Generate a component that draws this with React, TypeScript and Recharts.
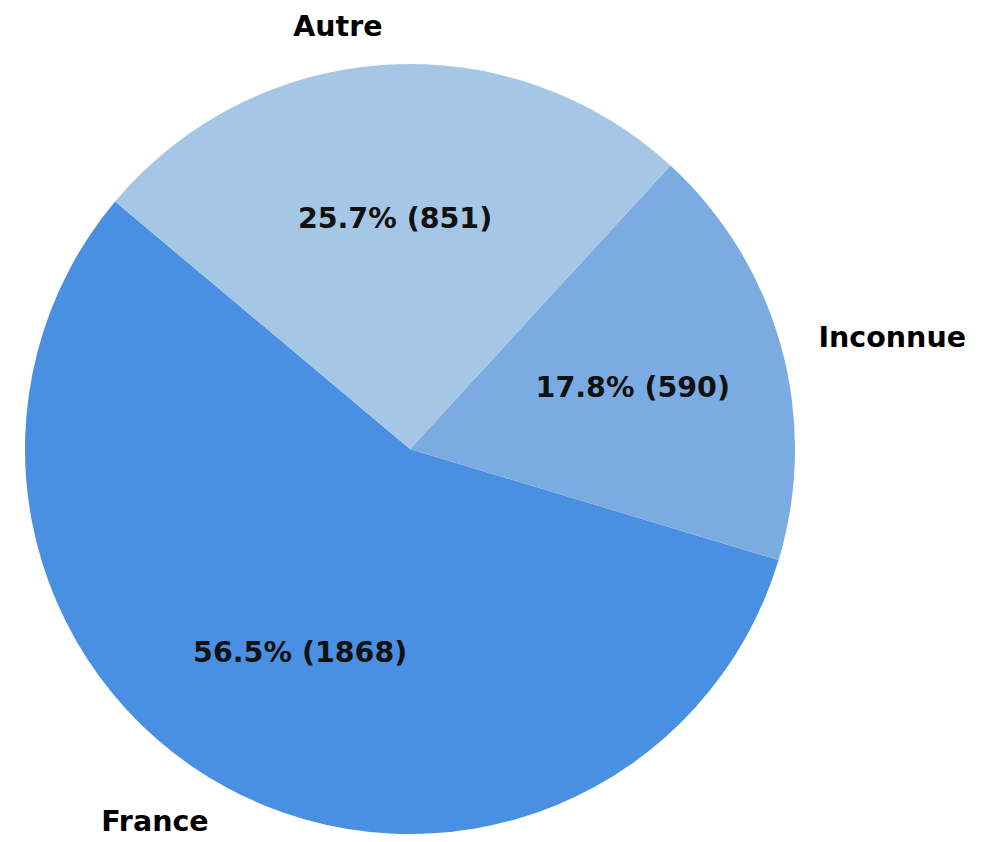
import { PieChart, Pie, Cell } from "recharts";

const categories = ["France", "Inconnue", "Autre"];
const counts = [1868, 590, 851];
const colors = ["#4a90e2", "#7aace2", "#a5c7e5"];

const data = categories.map((name, i) => ({ name, value: counts[i] }));

const RADIAN = Math.PI / 180;
const FONT = "'DejaVu Sans', sans-serif";

function renderLabel(props: any) {
  const { cx, cy, midAngle, outerRadius, name, value, percent } = props;
  const cos = Math.cos(-midAngle * RADIAN);
  const sin = Math.sin(-midAngle * RADIAN);
  // name outside (1.1 x radius), percentage inside (0.6 x radius)
  const ox = cx + outerRadius * 1.1 * cos;
  const oy = cy + outerRadius * 1.1 * sin;
  const ix = cx + outerRadius * 0.6 * cos;
  const iy = cy + outerRadius * 0.6 * sin;
  return (
    <g>
      <text
        x={ox}
        y={oy}
        textAnchor={ox < cx ? "end" : "start"}
        dominantBaseline="central"
        fill="#000"
        fontFamily={FONT}
        fontWeight="bold"
        fontSize={28.5}
      >
        {name}
      </text>
      <text
        x={ix}
        y={iy}
        textAnchor="middle"
        dominantBaseline="central"
        fill="#111"
        fontFamily={FONT}
        fontWeight="bold"
        fontSize={28.5}
      >
        {`${(percent * 100).toFixed(1)}% (${value})`}
      </text>
    </g>
  );
}

export default function App() {
  return (
    <div style={{ position: "absolute", left: 0, top: 0, width: 991, height: 842, background: "#fff" }}>
      <PieChart width={991} height={842} margin={{ top: 0, right: 0, bottom: 0, left: 0 }}>
        <Pie
          data={data}
          dataKey="value"
          nameKey="name"
          cx={410}
          cy={449}
          outerRadius={385}
          startAngle={140}
          endAngle={500}
          stroke="none"
          label={renderLabel}
          labelLine={false}
          isAnimationActive={false}
        >
          {data.map((d, i) => (
            <Cell key={d.name} fill={colors[i]} />
          ))}
        </Pie>
      </PieChart>
    </div>
  );
}
